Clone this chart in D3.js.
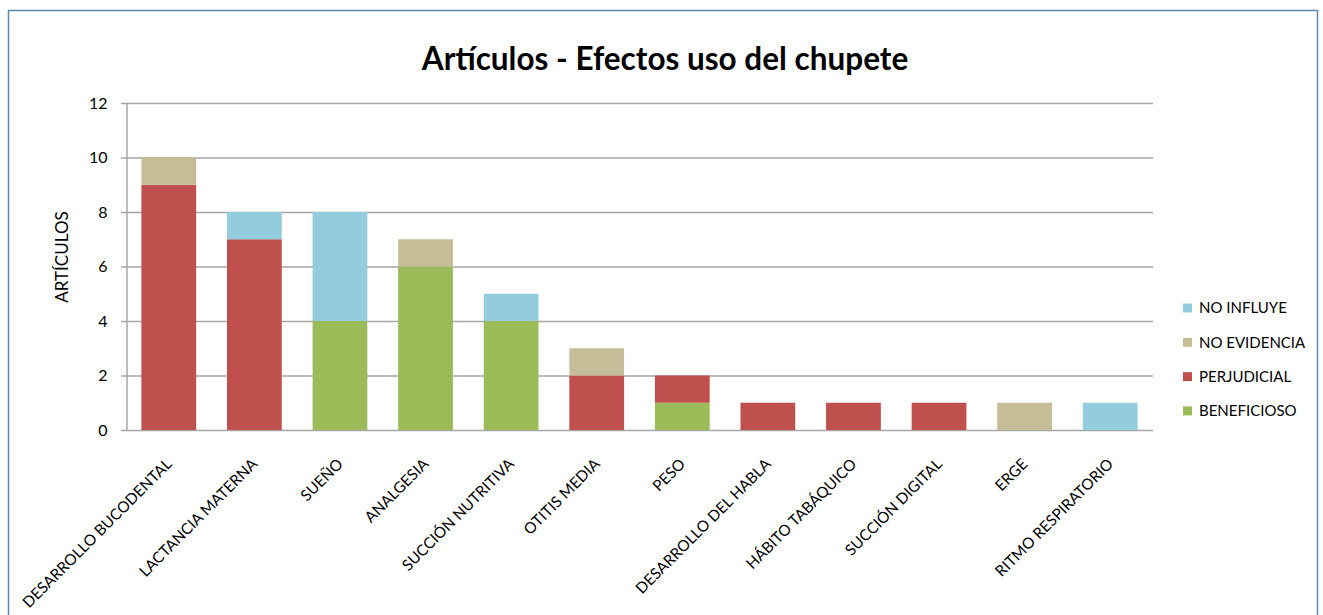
<!DOCTYPE html>
<html>
<head>
<meta charset="utf-8">
<script src="https://cdn.jsdelivr.net/npm/d3@7"></script>
<style>
  body { margin: 0; background: #fff; }
  svg { display: block; font-family: Lato, "Open Sans", sans-serif; }
</style>
</head>
<body>
<script>
var categories = ['DESARROLLO BUCODENTAL', 'LACTANCIA MATERNA', 'SUEÑO', 'ANALGESIA', 'SUCCIÓN NUTRITIVA',
  'OTITIS MEDIA', 'PESO', 'DESARROLLO DEL HABLA', 'HÁBITO TABÁQUICO', 'SUCCIÓN DIGITAL', 'ERGE', 'RITMO RESPIRATORIO'];

// series, stacked bottom to top
var beneficioso = [0, 0, 4, 6, 4, 0, 1, 0, 0, 0, 0, 0];
var perjudicial = [9, 7, 0, 0, 0, 2, 1, 1, 1, 1, 0, 0];
var noEvidencia = [1, 0, 0, 1, 0, 1, 0, 0, 0, 0, 1, 0];
var noInfluye   = [0, 1, 4, 0, 1, 0, 0, 0, 0, 0, 0, 1];

var seriesNames = ['BENEFICIOSO', 'PERJUDICIAL', 'NO EVIDENCIA', 'NO INFLUYE'];
var seriesColors = ['#9BBB59', '#C0504D', '#C4BD97', '#93CDDD'];
var yTicks = [0, 2, 4, 6, 8, 10, 12];

var W = 1323, H = 615;
var margin = {left: 126, right: 1153, top: 103, bottom: 430};

var svg = d3.select('body').append('svg')
    .attr('width', W)
    .attr('height', H);

// outer chart frame
svg.append('rect')
    .attr('x', 8.5).attr('y', 10.5)
    .attr('width', 1309).attr('height', 640)
    .attr('fill', '#fff')
    .attr('stroke', '#5B87AD')
    .attr('stroke-width', 1.5);

var table = categories.map(function (c, i) {
    return {cat: c, BENEFICIOSO: beneficioso[i], PERJUDICIAL: perjudicial[i],
        'NO EVIDENCIA': noEvidencia[i], 'NO INFLUYE': noInfluye[i]};
});

var x = d3.scaleBand()
    .domain(categories)
    .range([margin.left, margin.right])
    .paddingInner(0.36)
    .paddingOuter(0.18);

var y = d3.scaleLinear()
    .domain([0, 12])
    .range([margin.bottom, margin.top]);

var color = d3.scaleOrdinal().domain(seriesNames).range(seriesColors);

// gridlines
svg.append('g')
    .selectAll('line')
    .data(yTicks)
    .enter()
    .append('line')
    .attr('x1', margin.left - 5)
    .attr('x2', margin.right)
    .attr('y1', function (d) { return y(d) + 0.5; })
    .attr('y2', function (d) { return y(d) + 0.5; })
    .attr('stroke', '#A6A6A6')
    .attr('stroke-width', 1.5);

// y axis
var yAxis = svg.append('g')
    .attr('transform', 'translate(' + (margin.left + 0.5) + ',0)')
    .call(d3.axisLeft(y).tickValues(yTicks).tickSize(0).tickPadding(19));
yAxis.select('.domain').attr('stroke', '#A6A6A6').attr('stroke-width', 1.5);
yAxis.attr('font-size', null).attr('font-family', null);
yAxis.selectAll('text').attr('font-size', 16).attr('fill', '#000');

// stacked bars
var stack = d3.stack().keys(seriesNames)(table);

svg.append('g')
    .selectAll('g')
    .data(stack)
    .enter()
    .append('g')
    .attr('fill', function (d) { return color(d.key); })
    .selectAll('rect')
    .data(function (d) { return d.filter(function (e) { return e[1] - e[0] > 0; }); })
    .enter()
    .append('rect')
    .attr('x', function (d) { return x(d.data.cat); })
    .attr('y', function (d) { return y(d[1]); })
    .attr('width', x.bandwidth())
    .attr('height', function (d) { return y(d[0]) - y(d[1]); });

// x labels, rotated
svg.append('g')
    .selectAll('text')
    .data(categories)
    .enter()
    .append('text')
    .attr('transform', function (d) {
        return 'translate(' + (x(d) + x.bandwidth() / 2 + 4) + ',' + 465 + ') rotate(-45)';
    })
    .attr('text-anchor', 'end')
    .attr('font-size', 15.3)
    .text(function (d) { return d; });

// title
svg.append('text')
    .attr('x', 665)
    .attr('y', 70)
    .attr('text-anchor', 'middle')
    .attr('font-size', 31.5)
    .attr('font-weight', 'bold')
    .text('Artículos - Efectos uso del chupete');

// y axis title
svg.append('text')
    .attr('transform', 'translate(68,257) rotate(-90)')
    .attr('text-anchor', 'middle')
    .attr('font-size', 17)
    .text('ARTÍCULOS');

// legend (top to bottom reversed from stack)
var legendItems = seriesNames.slice().reverse();
var legend = svg.append('g')
    .selectAll('g')
    .data(legendItems)
    .enter()
    .append('g')
    .attr('transform', function (d, i) { return 'translate(1183,' + (308 + i * 34.3) + ')'; });

legend.append('rect')
    .attr('x', 0).attr('y', -4.5)
    .attr('width', 9).attr('height', 9)
    .attr('fill', function (d) { return color(d); });

legend.append('text')
    .attr('x', 16)
    .attr('dy', '0.35em')
    .attr('font-size', 15)
    .text(function (d) { return d; });
</script>
</body>
</html>
